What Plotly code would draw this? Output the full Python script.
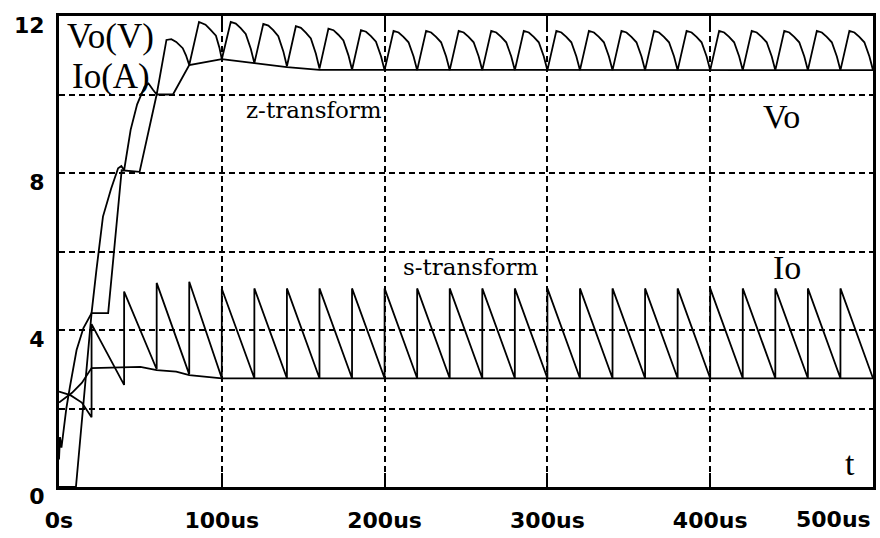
import plotly.graph_objects as go

# ---------------- data ----------------
# Vo, continuous (s-transform) start-up part: time (us), value (V)
vo_s_t = [0, 0.6, 1.5, 4.5, 6.7, 10.8, 15, 20, 23, 27, 32, 36.3, 38.3, 40,
          44, 48, 52.6, 55, 57.7, 60, 66, 69, 72, 76, 78, 80,
          86, 90, 93, 96.4, 98.5]
vo_s_v = [0.7, 1.27, 1.0, 2.0, 2.55, 3.49, 4.05, 4.43, 5.53, 6.89, 7.6, 8.12, 8.18, 8.07,
          9.1, 9.75, 10.2, 10.28, 10.12, 10.0, 11.39, 11.41, 11.34, 11.18, 11.0, 10.75,
          11.85, 11.78, 11.65, 11.5, 11.2]
# Vo ripple cycles after start-up (cycle start, valley at start, peak)
vo_cyc_start = [100, 120, 140, 160, 180, 200, 220, 240, 260, 280,
                300, 320, 340, 360, 380, 400, 420, 440, 460, 480]
vo_cyc_min = [10.9, 10.8, 10.72, 10.66, 10.63, 10.62, 10.62, 10.62, 10.62, 10.62,
              10.62, 10.62, 10.62, 10.62, 10.62, 10.62, 10.62, 10.62, 10.62, 10.62]
vo_cyc_peak = [11.85, 11.8, 11.74, 11.68, 11.64, 11.62, 11.62, 11.62, 11.62, 11.62,
               11.62, 11.62, 11.62, 11.62, 11.62, 11.62, 11.62, 11.62, 11.62, 11.62]
vo_end_t, vo_end_v = 500, 10.62
# ripple profile inside one cycle (offset us, fraction of peak height)
rip_dt = [5.5, 8.6, 11.6, 14.7, 17.8]
rip_frac = [1.0, 0.96, 0.85, 0.71, 0.35]

# Vo, sampled (z-transform)
vo_z_t = [0, 10.4, 20, 30.2, 38.5, 49.5, 60, 70, 80, 100, 120, 140, 160, 500]
vo_z_v = [0, 0, 4.43, 4.43, 8.07, 8.03, 10.0, 10.0, 10.75, 10.9, 10.8, 10.7, 10.63, 10.62]

# Io, continuous (s-transform)
io_s0_t = [0, 7, 14]
io_s0_v = [2.43, 2.34, 2.15]
io_jump_t = [20, 40, 60, 80, 100, 120, 140, 160, 180, 200, 220, 240, 260,
             280, 300, 320, 340, 360, 380, 400, 420, 440, 460, 480]
io_low = [1.78, 2.6, 3.0, 2.87, 2.77, 2.77, 2.77, 2.77, 2.77, 2.77, 2.77, 2.77,
          2.77, 2.77, 2.77, 2.77, 2.77, 2.77, 2.77, 2.77, 2.77, 2.77, 2.77, 2.77]
io_high = [4.15, 4.98, 5.2, 5.23, 5.05, 5.06, 5.06, 5.06, 5.06, 5.06, 5.06, 5.06,
           5.06, 5.06, 5.06, 5.06, 5.06, 5.06, 5.06, 5.06, 5.06, 5.06, 5.06, 5.06]
io_end_t, io_end_v = 500, 2.77

# Io, sampled (z-transform)
io_z_t = [0, 8, 14, 20, 50, 60, 72, 80, 100, 500]
io_z_v = [2.15, 2.4, 2.65, 3.03, 3.06, 2.98, 2.94, 2.85, 2.77, 2.77]

x_tick_vals = [0, 100, 200, 300, 400]
x_tick_text = ["0s", "100us", "200us", "300us", "400us"]
x_last_val, x_last_text = 500, "500us"
y_tick_vals = [0, 2, 4, 6, 8, 10, 12]
y_tick_text = ["0", "", "4", "", "8", "", "12"]

# ---------------- build polylines ----------------
vx, vy = list(vo_s_t), list(vo_s_v)
for i, t0 in enumerate(vo_cyc_start):
    m0 = vo_cyc_min[i]
    m1 = vo_cyc_min[i + 1] if i + 1 < len(vo_cyc_min) else vo_end_v
    pk = vo_cyc_peak[i]
    vx.append(t0); vy.append(m0)
    for dt, fr in zip(rip_dt, rip_frac):
        vx.append(t0 + dt)
        vy.append(m1 + fr * (pk - m1))
vx.append(vo_end_t); vy.append(vo_end_v)

ix, iy = list(io_s0_t), list(io_s0_v)
for t0, lo, hi in zip(io_jump_t, io_low, io_high):
    ix += [t0, t0]
    iy += [lo, hi]
ix.append(io_end_t); iy.append(io_end_v)

line = dict(color="black", width=1.8)
fig = go.Figure()
fig.add_trace(go.Scatter(x=vo_z_t, y=vo_z_v, mode="lines", line=line, name="Vo z"))
fig.add_trace(go.Scatter(x=vx, y=vy, mode="lines", line=line, name="Vo s"))
fig.add_trace(go.Scatter(x=io_z_t, y=io_z_v, mode="lines", line=line, name="Io z"))
fig.add_trace(go.Scatter(x=ix, y=iy, mode="lines", line=line, name="Io s"))

tickfont = dict(family="DejaVu Sans", size=22, color="black", weight="bold")
grid = dict(showgrid=True, gridcolor="black", gridwidth=1.5, griddash="6px,4px",
            zeroline=False, showline=True, linecolor="black", linewidth=3)

fig.update_xaxes(range=[0, 500], tickvals=x_tick_vals, ticktext=x_tick_text,
                 ticks="inside", ticklen=14, tickwidth=2, tickcolor="black",
                 mirror="ticks", tickfont=tickfont, ticklabelstandoff=12, **grid)
fig.update_yaxes(range=[0, 12.0001], tickvals=y_tick_vals, ticktext=y_tick_text,
                 ticks="", mirror=True, tickfont=tickfont, ticklabelshift=9,
                 ticklabelstandoff=7, **grid)

serif = "Liberation Serif"
ann = [
    dict(x=3.5, y=11.49, text="Vo(V)", xanchor="left", size=35, fam=serif),
    dict(x=6.5, y=10.47, text="Io(A)", xanchor="left", size=35, fam=serif),
    dict(x=156.6, y=9.6, text="z-transform", xanchor="center", size=23, fam="DejaVu Serif"),
    dict(x=252.6, y=5.6, text="s-transform", xanchor="center", size=23, fam="DejaVu Serif"),
    dict(x=444, y=9.43, text="Vo", xanchor="center", size=34, fam=serif),
    dict(x=447, y=5.58, text="Io", xanchor="center", size=34, fam=serif),
    dict(x=485.6, y=0.61, text="t", xanchor="center", size=34, fam=serif),
]
for a in ann:
    fig.add_annotation(x=a["x"], y=a["y"], text=a["text"], xanchor=a["xanchor"],
                       yanchor="middle", showarrow=False,
                       font=dict(family=a["fam"], size=a["size"], color="black"))

fig.add_annotation(x=x_last_val, xref="x", y=0, yref="paper", text=x_last_text,
                   xanchor="right", yanchor="top", yshift=-18, showarrow=False,
                   font=tickfont)

fig.update_layout(width=880, height=538, margin=dict(l=59, r=4, t=16, b=51),
                  plot_bgcolor="white", paper_bgcolor="white", showlegend=False)

fig.write_html("out.html")
